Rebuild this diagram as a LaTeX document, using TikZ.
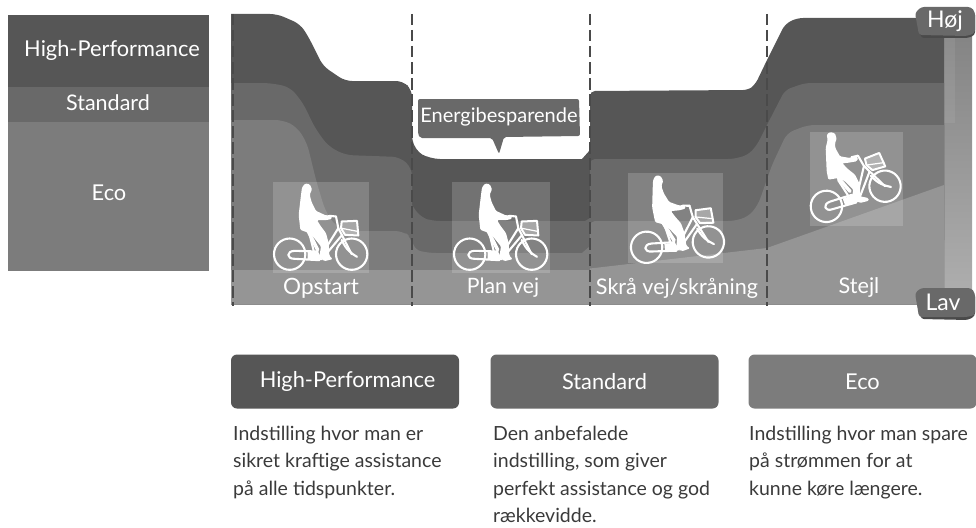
\documentclass[tikz,border=0pt]{standalone}
\usepackage{fontspec}
\setmainfont{Lato}
\definecolor{cHigh}{HTML}{565656}
\definecolor{cStd}{HTML}{696969}
\definecolor{cEco}{HTML}{7C7C7C}
\definecolor{cGround}{HTML}{959595}
\definecolor{cDash}{HTML}{4A4A4A}
\definecolor{cBody}{HTML}{3A3A3A}
\tikzset{
  lab/.style={text=white,inner sep=0pt,font=\fontsize{#1}{#1}\selectfont},
  lab/.default=21.5,
  modebox/.style={rounded corners=6pt,inner sep=0pt,minimum width=228pt,minimum height=54pt,text=white,font=\fontsize{21.8}{21.8}\selectfont},
  bodytext/.style={anchor=north west,inner sep=0pt,align=left,text=cBody,font=\fontsize{19.5}{27.4}\selectfont},
  divider/.style={draw=cDash,line width=2pt,dash pattern=on 11.5pt off 4.5pt},
  panel/.style={fill=white,fill opacity=.17},
  frameline/.style={draw=white,line width=2.1pt,line cap=round,line join=round},
}
\newcommand{\bikeframe}{%
  \draw[frameline] (66,228) circle (47);
  \draw[frameline] (252,228) circle (47);
  \draw[frameline] (150,220) -- (82,218) .. controls (55,218) and (55,243) .. (82,242) -- (155,246);
  \draw[frameline] (125,165) -- (138,218);
  \draw[frameline] (205,115) -- (212,150) -- (252,228);
  \draw[frameline] (212,150) -- (165,225);
  \draw[frameline] (222,172) -- (165,240);
  \draw[frameline] (222,185) .. controls (235,215) and (250,225) .. (268,236);
  \fill[white] (120,222) -- (152,222) -- (165,246) -- (120,242) -- cycle;
  \draw[frameline,line width=2pt,fill=white,fill opacity=.3] (222,130) -- (268,128) -- (272,172) -- (232,170) -- (220,150) -- cycle;
  \draw[frameline,line width=1.2pt] (220,150) -- (272,160);
  \draw[frameline] (185,113) -- (205,115);
}
\newcommand{\riderflat}{%
  \fill[white,rounded corners=1.2pt] (112,16) -- (126,18) -- (133,33) -- (126,50) -- (132,72) -- (145,98) -- (175,112) -- (190,110) -- (193,122) -- (175,126) -- (148,126) -- (160,145) -- (175,165) -- (183,195) -- (185,232) -- (195,243) -- (170,249) -- (155,236) -- (160,205) -- (140,180) -- (125,165) -- (98,155) -- (93,110) -- (100,50) -- (103,28) -- cycle;
  \draw[frameline,line width=3.5pt] (122,160) -- (150,215);
}
\newcommand{\ridersteep}{%
  \fill[white,rounded corners=1.2pt] (75,12) -- (90,16) -- (95,33) -- (90,45) -- (91,60) -- (105,85) -- (135,90) -- (150,84) -- (160,90) -- (155,100) -- (125,105) -- (112,105) -- (125,120) -- (150,140) -- (165,170) -- (165,205) -- (190,210) -- (192,218) -- (165,225) -- (140,210) -- (145,185) -- (120,160) -- (100,150) -- (70,155) -- (65,130) -- (62,60) -- (68,35) -- (65,20) -- cycle;
  \draw[frameline,line width=3.5pt] (100,150) -- (135,190);
}
\begin{document}
\begin{tikzpicture}[x=1pt,y=-1pt]
\useasboundingbox (0,0) rectangle (976,527);
% legend
\fill[cHigh] (8,15) rectangle (209,87);
\fill[cStd] (8,87) rectangle (209,122);
\fill[cEco] (8,122) rectangle (209,271);
\node[lab=21.8] (legHigh) at (112,50) {High-Performance};
\node[lab=21.5] (legStd) at (108,103) {Standard};
\node[lab=21.8] (legEco) at (109,193) {Eco};
% gradient bar
\shade[top color=black!48,bottom color=black!32] (944,36) rectangle (972,292);
\fill[white,opacity=.07] (944,38) rectangle (955,123);
% layers
\fill[cHigh,rounded corners=7pt] (231,14) -- (277,14) -- (300,24) -- (308,36) -- (323,66) -- (345,81) -- (403,81) -- (412,90) [sharp corners] -- (412,136) [rounded corners=10pt] -- (414,150) -- (430,159) [sharp corners] -- (582,159) -- (590,150) [rounded corners=5pt] -- (590,91) -- (748,90) [rounded corners=6pt] -- (755,85) -- (767,60) -- (785,24) -- (797,18) [sharp corners] -- (944,18) -- (944,240) -- (231,240) -- cycle;
\fill[cStd,rounded corners=8pt] (231,83) -- (270,83) -- (290,87) -- (303,103) -- (315,128) -- (328,146) -- (345,155) -- (400,157) -- (412,168) [sharp corners] -- (412,205) [rounded corners=8pt] -- (420,217) -- (432,221) [sharp corners] -- (585,221) -- (590,218) [rounded corners=5pt] -- (590,159) -- (733,159) [rounded corners=6pt] -- (748,155) -- (757,145) -- (767,125) -- (785,90) -- (805,83) [sharp corners] -- (944,83) -- (944,290) -- (231,290) -- cycle;
\fill[cEco,rounded corners=8pt] (231,120) -- (283,120) -- (297,127) -- (307,143) -- (316,180) -- (325,210) -- (335,226) -- (350,231) -- (403,231) -- (412,238) [sharp corners] -- (412,240) [rounded corners=6pt] -- (415,250) -- (430,253) [sharp corners] -- (582,253) -- (590,246) [rounded corners=5pt] -- (590,221) -- (733,221) [rounded corners=7pt] -- (748,217) -- (758,205) -- (772,165) -- (787,133) -- (808,125) [sharp corners] -- (944,125) -- (944,300) -- (231,300) -- cycle;
\fill[cGround] (231,270) -- (590,270) -- (590,268.5) -- (767,248) -- (944,185) -- (944,304) -- (231,304) -- cycle;
\draw[black!45,line width=.6pt] (231,304) -- (944,304);
% icon panels
\fill[panel] (273,182) rectangle (369,273);
\fill[panel] (452,182) rectangle (550,273);
\fill[panel] (628,173) rectangle (723,263);
\fill[panel] (810,132) rectangle (903,226);
% bikes
\begin{scope}[shift={(321,227.5)},scale=1/3,shift={(-160,-148)}]\bikeframe\riderflat\end{scope}
\begin{scope}[shift={(501,227.5)},scale=1/3,shift={(-160,-148)}]\bikeframe\riderflat\end{scope}
\begin{scope}[shift={(675.5,218)},scale=1/3,rotate=5,shift={(-160,-148)}]\bikeframe\riderflat\end{scope}
\begin{scope}[shift={(855.7,196.3)},scale=1/3,rotate=19,shift={(-159,-228)}]\bikeframe\end{scope}
\begin{scope}[shift={(805,128)},scale=1/3]\ridersteep\end{scope}
% dividers
\draw[divider] (233,14) -- (233,306);
\draw[divider] (412,14) -- (412,306);
\draw[divider] (590,14) -- (590,306);
\draw[divider] (767,14) -- (767,306);
% section labels
\node[lab=22.5] (secA) at (321,288) {Opstart};
\node[lab=21.2] (secB) at (503,288) {Plan vej};
\node[lab=21.6] (secC) at (677,288) {Skrå vej/skråning};
\node[lab=21.6] (secD) at (859,288) {Stejl};
% callout
\fill[cStd,rounded corners=2pt] (418,99) -- (579,99) -- (580,136) -- (504,137) -- (499,154) -- (492,138) -- (420,138) -- (418,134) -- cycle;
\node[lab=20] (callout) at (499,117) {Energibesparende};
% tags
\fill[cDash,rounded corners=3pt] (917,12) -- (975,12) -- (975,35) -- (968,38) -- (921,38) -- cycle;
\fill[cStd,rounded corners=3pt] (915,13) -- (921,7) -- (971,7) -- (975,12) -- (975,33) -- (967,36) -- (919,35) -- cycle;
\node[lab=23] (tagHigh) at (945,21) {Høj};
\fill[cDash,rounded corners=3pt] (917,294) -- (975,294) -- (975,316) -- (968,320) -- (921,319) -- cycle;
\fill[cStd,rounded corners=3pt] (915,293) -- (921,288) -- (971,288) -- (975,293) -- (975,315) -- (967,317) -- (919,317) -- cycle;
\node[lab=23] (tagLow) at (943,302) {Lav};
% mode boxes
\node[modebox,fill=cHigh] (boxHigh) at (345,381.5) {\hspace*{5pt}High-Performance};
\node[modebox,fill=cStd] (boxStd) at (604.5,381.5) {Standard};
\node[modebox,fill=cEco] (boxEco) at (862.5,381.5) {Eco};
% descriptions
\node[bodytext] (txtHigh) at (233,426) {Indstilling hvor man er\\sikret kraftige assistance\\på alle tidspunkter.};
\node[bodytext] (txtStd) at (493,426) {Den anbefalede\\indstilling, som giver\\perfekt assistance og god\\rækkevidde.};
\node[bodytext] (txtEco) at (749,426) {Indstilling hvor man spare\\på strømmen for at\\kunne køre længere.};
\end{tikzpicture}
\end{document}
